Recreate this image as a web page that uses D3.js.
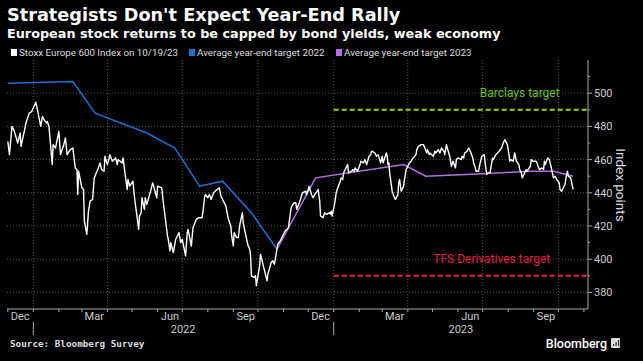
<!DOCTYPE html>
<html>
<head>
<meta charset="utf-8">
<script src="https://cdnjs.cloudflare.com/ajax/libs/d3/7.8.5/d3.min.js"></script>
<style>
  body { margin: 0; background: #000; }
  #chart { font-family: Roboto, "Open Sans", sans-serif; }
</style>
</head>
<body>
<svg id="chart" width="643" height="361"></svg>
<script>
// Stoxx Europe 600
var stoxx = [
  ['2021-12-01',471],['2021-12-03',463],['2021-12-06',480],['2021-12-09',477],['2021-12-13',470],
  ['2021-12-16',476],['2021-12-17',468],['2021-12-21',477],['2021-12-23',482],['2021-12-27',488],
  ['2021-12-30',489],['2022-01-04',494.6],['2022-01-06',490],['2022-01-10',480],['2022-01-12',486],
  ['2022-01-14',484],['2022-01-17',482],['2022-01-18',483],['2022-01-20',480],['2022-01-24',457],
  ['2022-01-25',469],['2022-01-28',467],['2022-02-01',477],['2022-02-03',463],['2022-02-07',469],
  ['2022-02-09',473],['2022-02-11',463],['2022-02-15',466],['2022-02-18',467],['2022-02-21',455],
  ['2022-02-23',454],['2022-02-24',439],['2022-02-25',453],['2022-03-01',443],['2022-03-03',442],
  ['2022-03-04',423],['2022-03-07',415],['2022-03-09',429],['2022-03-11',435],['2022-03-14',436],
  ['2022-03-16',449],['2022-03-21',455],['2022-03-23',458],['2022-03-25',454],['2022-03-28',453],
  ['2022-03-29',462],['2022-03-30',460],['2022-04-01',457],['2022-04-04',463],['2022-04-07',459],
  ['2022-04-11',461],['2022-04-13',457],['2022-04-14',460],['2022-04-19',458],['2022-04-20',461],
  ['2022-04-25',442],['2022-04-26',448],['2022-04-28',444],['2022-05-02',447],['2022-05-04',437],
  ['2022-05-09',418],['2022-05-10',426],['2022-05-12',428],['2022-05-13',437],['2022-05-16',430],
  ['2022-05-17',437],['2022-05-19',433],['2022-05-24',442],['2022-05-26',446],['2022-05-31',437],
  ['2022-06-01',444],['2022-06-06',443],['2022-06-08',434],['2022-06-13',414],['2022-06-14',412],
  ['2022-06-16',405],['2022-06-17',410],['2022-06-20',404],['2022-06-23',412],['2022-06-27',416],
  ['2022-06-29',410],['2022-07-01',412],['2022-07-05',402],['2022-07-07',416],['2022-07-08',418],
  ['2022-07-12',408],['2022-07-14',419],['2022-07-18',424],['2022-07-21',425],['2022-07-25',425],
  ['2022-07-26',428],['2022-07-28',437],['2022-07-29',439],['2022-08-01',437],['2022-08-03',439],
  ['2022-08-05',436],['2022-08-08',440],['2022-08-10',441],['2022-08-15',443],['2022-08-17',438],
  ['2022-08-19',436],['2022-08-23',432],['2022-08-26',424],['2022-08-29',420],['2022-08-30',414],
  ['2022-09-01',408],['2022-09-02',416],['2022-09-05',413],['2022-09-07',413],['2022-09-09',421],
  ['2022-09-12',428],['2022-09-13',422],['2022-09-15',417],['2022-09-19',408],['2022-09-21',406],
  ['2022-09-22',402],['2022-09-23',390],['2022-09-26',389],['2022-09-28',390],['2022-09-29',384],
  ['2022-10-03',396],['2022-10-04',403],['2022-10-06',399],['2022-10-10',391],['2022-10-12',387],
  ['2022-10-13',391],['2022-10-17',398],['2022-10-19',399],['2022-10-21',397],['2022-10-24',406],
  ['2022-10-25',409],['2022-10-28',411],['2022-11-01',415],['2022-11-03',417],['2022-11-07',419],
  ['2022-11-10',430],['2022-11-11',432],['2022-11-14',434],['2022-11-16',434],['2022-11-17',430],
  ['2022-11-21',435],['2022-11-24',440],['2022-11-28',441],['2022-11-29',439],['2022-12-01',442],
  ['2022-12-02',444],['2022-12-05',439],['2022-12-07',437],['2022-12-09',439],['2022-12-12',441],
  ['2022-12-13',442],['2022-12-15',435],['2022-12-16',426],['2022-12-19',425],['2022-12-21',428],
  ['2022-12-23',427],['2022-12-27',428],['2022-12-28',427],['2022-12-29',429],['2022-12-30',426],
  ['2023-01-02',433],['2023-01-04',440],['2023-01-06',443],['2023-01-09',447],['2023-01-10',449],
  ['2023-01-12',448],['2023-01-13',452],['2023-01-16',455],['2023-01-18',457],['2023-01-19',452],
  ['2023-01-23',453],['2023-01-24',454],['2023-01-26',453],['2023-01-27',455],['2023-01-30',453],
  ['2023-02-02',457],['2023-02-03',459],['2023-02-06',458],['2023-02-08',460],['2023-02-10',457],
  ['2023-02-13',462],['2023-02-15',463],['2023-02-16',465],['2023-02-17',465],['2023-02-20',464],
  ['2023-02-22',462],['2023-02-24',463],['2023-02-27',458],['2023-03-01',462],['2023-03-02',458],
  ['2023-03-06',464],['2023-03-07',462],['2023-03-08',457],['2023-03-09',458],['2023-03-10',452],
  ['2023-03-13',441],['2023-03-15',438],['2023-03-17',436],['2023-03-20',439],['2023-03-21',446],
  ['2023-03-22',448],['2023-03-24',441],['2023-03-27',444],['2023-03-28',448],['2023-03-30',454],
  ['2023-04-03',458],['2023-04-05',459],['2023-04-06',460],['2023-04-11',463],['2023-04-12',466],
  ['2023-04-14',468],['2023-04-17',469],['2023-04-20',469],['2023-04-21',468],['2023-04-24',464],
  ['2023-04-25',466],['2023-04-27',463],['2023-04-28',464],['2023-05-02',462],['2023-05-04',465],
  ['2023-05-05',464],['2023-05-08',466],['2023-05-10',464],['2023-05-12',467],['2023-05-15',465],
  ['2023-05-16',463],['2023-05-18',469],['2023-05-19',467],['2023-05-22',462],['2023-05-24',456],
  ['2023-05-26',459],['2023-05-29',455],['2023-05-30',460],['2023-06-01',461],['2023-06-05',460],
  ['2023-06-06',462],['2023-06-08',461],['2023-06-09',464],['2023-06-12',465],['2023-06-14',467],
  ['2023-06-16',465],['2023-06-19',461],['2023-06-20',458],['2023-06-22',455],['2023-06-23',453],
  ['2023-06-26',453],['2023-06-28',458],['2023-06-30',462],['2023-07-03',463],['2023-07-04',458],
  ['2023-07-06',451],['2023-07-07',452],['2023-07-10',452],['2023-07-12',458],['2023-07-13',461],
  ['2023-07-14',460],['2023-07-17',463],['2023-07-19',464],['2023-07-21',465],['2023-07-24',467],
  ['2023-07-26',470],['2023-07-28',472],['2023-07-31',469],['2023-08-02',463],['2023-08-03',459],
  ['2023-08-04',460],['2023-08-07',459],['2023-08-09',464],['2023-08-11',459],['2023-08-14',457],
  ['2023-08-15',454],['2023-08-17',452],['2023-08-18',449],['2023-08-21',452],['2023-08-23',454],
  ['2023-08-24',453],['2023-08-28',456],['2023-08-29',460],['2023-08-31',459],['2023-09-04',459],
  ['2023-09-05',458],['2023-09-07',455],['2023-09-08',454],['2023-09-11',455],['2023-09-13',454],
  ['2023-09-14',459],['2023-09-15',457],['2023-09-18',461],['2023-09-20',460],['2023-09-22',456],
  ['2023-09-25',449],['2023-09-27',450],['2023-09-29',448],['2023-10-02',446],['2023-10-03',442],
  ['2023-10-05',441],['2023-10-06',442],['2023-10-09',445],['2023-10-11',451],['2023-10-12',453],
  ['2023-10-13',450],['2023-10-16',449],['2023-10-18',444],['2023-10-19',442]
];

// average year-end targets (strategist survey)
var target2022 = [
  ['2021-12-01',506],['2022-02-18',507],['2022-03-17',488],['2022-05-19',476],
  ['2022-06-22',467],['2022-07-22',444],['2022-08-19',447],['2022-09-23',428],['2022-10-24',406]
];
var target2023 = [
  ['2022-10-24',406],['2022-12-10',449],['2023-03-27',457],['2023-04-23',450],
  ['2023-07-01',451.5],['2023-08-28',453],['2023-09-25',453],['2023-10-19',450]
];

var barclaysTarget = 490;
var tfsTarget = 390;

var yTicks = [380, 400, 420, 440, 460, 480, 500];
var yMinorTicks = [390, 410, 430, 450, 470, 490, 510];
var quarterLabels = ['Dec', 'Mar', 'Jun', 'Sep'];
var years = ['2022', '2023'];

var legendItems = [
  {label: 'Stoxx Europe 600 Index on 10/19/23', color: '#ffffff'},
  {label: 'Average year-end target 2022', color: '#1f6fd1'},
  {label: 'Average year-end target 2023', color: '#b46ee6'}
];

var parse = d3.timeParse('%Y-%m-%d');
var plot = {left: 7, right: 588, top: 60, bottom: 309};

var x = d3.scaleTime()
  .domain([parse('2021-11-30'), parse('2023-11-06')])
  .range([plot.left, plot.right]);
var y = d3.scaleLinear()
  .domain([370, 520])
  .range([plot.bottom, plot.top]);

var svg = d3.select('#chart');
svg.append('rect').attr('width', 643).attr('height', 361).attr('fill', '#000');

// titles
svg.append('text').attr('x', 7).attr('y', 21)
  .style('font-family', 'DejaVu Sans')
  .attr('font-size', 17.7).attr('font-weight', 700).attr('fill', '#fff')
  .text("Strategists Don't Expect Year-End Rally");
svg.append('text').attr('x', 7).attr('y', 38)
  .style('font-family', 'DejaVu Sans')
  .attr('font-size', 12.8).attr('font-weight', 700).attr('fill', '#fff')
  .text('European stock returns to be capped by bond yields, weak economy');

// legend
var legendX = [11, 189, 336];
legendItems.forEach(function(d, i) {
  svg.append('rect').attr('x', legendX[i]).attr('y', 49).attr('width', 6).attr('height', 7).attr('fill', d.color);
  svg.append('text').attr('x', legendX[i] + 8).attr('y', 56)
    .attr('font-size', 9.8).attr('fill', '#ddd').text(d.label);
});

// gridlines
var grid = svg.append('g');
grid.selectAll('.hgrid').data(yTicks).enter().append('line')
  .attr('x1', plot.left).attr('x2', plot.right)
  .attr('y1', function(d) { return y(d); }).attr('y2', function(d) { return y(d); })
  .attr('stroke', '#555').attr('stroke-dasharray', '1,2');
var quarters = d3.timeMonth.every(3).range(parse('2022-01-01'), x.domain()[1]);
grid.selectAll('.vgrid').data(quarters).enter().append('line')
  .attr('x1', function(d) { return x(d); }).attr('x2', function(d) { return x(d); })
  .attr('y1', plot.top).attr('y2', plot.bottom)
  .attr('stroke', '#555').attr('stroke-dasharray', '1,2');

// target levels for 2023
var levelStart = parse('2023-01-01');
svg.append('line')
  .attr('x1', x(levelStart)).attr('x2', plot.right)
  .attr('y1', y(barclaysTarget)).attr('y2', y(barclaysTarget))
  .attr('stroke', '#8fd400').attr('stroke-width', 2).attr('stroke-dasharray', '5,3');
svg.append('line')
  .attr('x1', x(levelStart)).attr('x2', plot.right)
  .attr('y1', y(tfsTarget)).attr('y2', y(tfsTarget))
  .attr('stroke', '#f0203c').attr('stroke-width', 2).attr('stroke-dasharray', '5,3');
svg.append('text').attr('x', x(parse('2023-08-15'))).attr('y', y(500) + 4)
  .attr('text-anchor', 'middle').attr('font-size', 12).attr('fill', '#6cc012')
  .text('Barclays target');
svg.append('text').attr('x', x(parse('2023-07-12'))).attr('y', y(400) + 4)
  .attr('text-anchor', 'middle').attr('font-size', 12).attr('fill', '#e0203a')
  .text('TFS Derivatives target');

// lines
var line = d3.line()
  .x(function(d) { return x(parse(d[0])); })
  .y(function(d) { return y(d[1]); });

svg.append('path').datum(target2022).attr('d', line)
  .attr('fill', 'none').attr('stroke', '#1f6fd1').attr('stroke-width', 1.5);
svg.append('path').datum(target2023).attr('d', line)
  .attr('fill', 'none').attr('stroke', '#b46ee6').attr('stroke-width', 1.5);
svg.append('path').datum(stoxx).attr('d', line)
  .attr('fill', 'none').attr('stroke', '#fff').attr('stroke-width', 1.4)
  .attr('stroke-linejoin', 'round');

// right axis
var yAxis = svg.append('g').attr('transform', 'translate(' + plot.right + ',0)');
yAxis.append('line').attr('y1', plot.top).attr('y2', plot.bottom).attr('stroke', '#aaa');
yAxis.selectAll('.major').data(yTicks).enter().append('line')
  .attr('x1', 0).attr('x2', 4)
  .attr('y1', function(d) { return y(d); }).attr('y2', function(d) { return y(d); })
  .attr('stroke', '#aaa');
yAxis.selectAll('.minor').data(yMinorTicks).enter().append('line')
  .attr('x1', 0).attr('x2', 2)
  .attr('y1', function(d) { return y(d); }).attr('y2', function(d) { return y(d); })
  .attr('stroke', '#aaa');
yAxis.selectAll('.lab').data(yTicks).enter().append('text')
  .attr('x', 6).attr('y', function(d) { return y(d) + 4; })
  .attr('font-size', 11).attr('fill', '#ccc')
  .text(function(d) { return d; });
svg.append('text')
  .attr('transform', 'translate(616,185) rotate(90)')
  .attr('text-anchor', 'middle').attr('font-size', 13.5).attr('fill', '#ddd')
  .text('Index points');

// bottom axis
var xAxis = svg.append('g');
xAxis.append('line').attr('x1', plot.left).attr('x2', plot.right)
  .attr('y1', plot.bottom).attr('y2', plot.bottom).attr('stroke', '#aaa');
var months = d3.timeMonth.range(parse('2021-12-01'), x.domain()[1]);
xAxis.selectAll('.mtick').data(months).enter().append('line')
  .attr('x1', function(d) { return x(d); }).attr('x2', function(d) { return x(d); })
  .attr('y1', plot.bottom).attr('y2', plot.bottom + 3)
  .attr('stroke', '#aaa');
var labelMonths = months.filter(function(d) { return quarterLabels.indexOf(d3.timeFormat('%b')(d)) >= 0; });
xAxis.selectAll('.mlab').data(labelMonths).enter().append('text')
  .attr('x', function(d) { return x(d3.timeDay.offset(d, 15)); })
  .attr('y', plot.bottom + 11)
  .attr('text-anchor', 'middle').attr('font-size', 11).attr('fill', '#ccc')
  .text(function(d) { return d3.timeFormat('%b')(d); });
years.forEach(function(yr) {
  var start = parse(yr + '-01-01');
  var end = d3.min([parse(yr + '-12-31'), x.domain()[1]]);
  xAxis.append('line').attr('x1', x(start)).attr('x2', x(start))
    .attr('y1', plot.bottom + 13).attr('y2', plot.bottom + 26).attr('stroke', '#aaa');
  xAxis.append('text').attr('x', (x(start) + x(end)) / 2).attr('y', plot.bottom + 24)
    .attr('text-anchor', 'middle').attr('font-size', 11).attr('fill', '#ccc')
    .text(yr);
});

// footer
svg.append('text').attr('x', 10).attr('y', 347)
  .attr('font-size', 9.3).attr('font-weight', 700).attr('fill', '#ddd')
  .style('font-family', 'DejaVu Sans Mono')
  .text('Source: Bloomberg Survey');
svg.append('text').attr('x', 607).attr('y', 348)
  .attr('text-anchor', 'end').attr('font-size', 12.5).attr('font-weight', 500).attr('fill', '#fff')
  .text('Bloomberg');
svg.append('rect').attr('x', 611).attr('y', 338).attr('width', 9).attr('height', 10)
  .attr('rx', 1).attr('fill', '#ddd');
[[613, 344, 2], [615.5, 342, 4], [618, 340, 6]].forEach(function(b) {
  svg.append('rect').attr('x', b[0]).attr('y', b[1]).attr('width', 1.2).attr('height', b[2]).attr('fill', '#333');
});
</script>
</body>
</html>
